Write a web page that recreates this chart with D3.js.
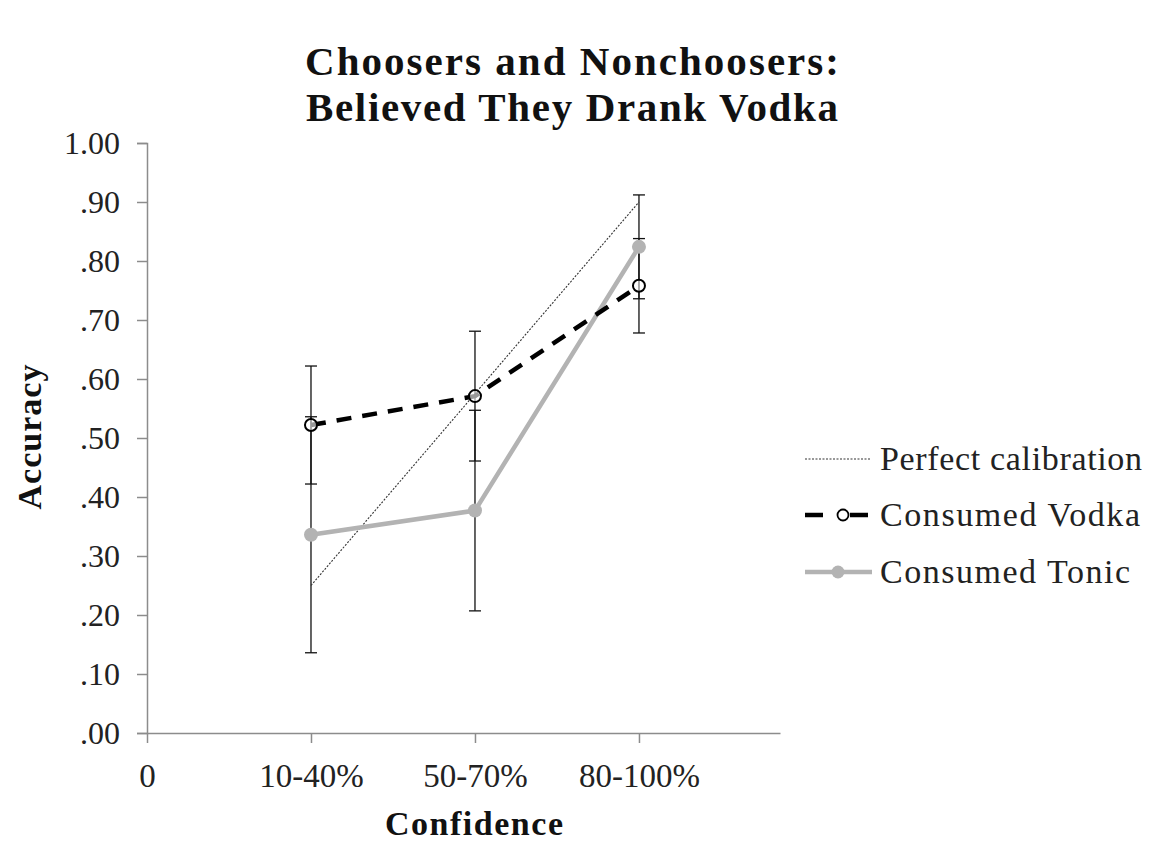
<!DOCTYPE html>
<html><head><meta charset="utf-8">
<script src="https://cdn.jsdelivr.net/npm/d3@7"></script>
<style>body{margin:0;background:#fff}svg{display:block}</style>
</head><body>
<svg id="c" width="1153" height="843"></svg>
<script>
const categories = ["0", "10-40%", "50-70%", "80-100%"];
const catX = [0, 1, 2, 3];
const yTicks = [0, .1, .2, .3, .4, .5, .6, .7, .8, .9, 1.0];
const yTickLabels = [".00", ".10", ".20", ".30", ".40", ".50", ".60", ".70", ".80", ".90", "1.00"];
const perfectX = [1, 3];
const perfectY = [0.25, 0.90];
const vodkaX = [1, 2, 3];
const vodkaY = [0.522, 0.571, 0.758];
const vodkaErr = [0.10, 0.11, 0.08];
const tonicX = [1, 2, 3];
const tonicY = [0.336, 0.377, 0.824];
const tonicErr = [0.20, 0.17, 0.088];
const legendLabels = ["Perfect calibration", "Consumed Vodka", "Consumed Tonic"];

const svg = d3.select("#c");
const font = "'Liberation Serif', 'Times New Roman', serif";
const x = d3.scaleLinear().domain([0, 3.86]).range([147, 780]);
const y = d3.scaleLinear().domain([0, 1]).range([733, 143]);
const axisColor = "#8c8c8c";

// title
const title = svg.append("text").attr("text-anchor", "middle")
  .attr("font-family", font).attr("font-weight", "bold").attr("font-size", 41).attr("fill", "#111");
title.append("tspan").attr("x", 572).attr("y", 75).attr("textLength", 534).attr("lengthAdjust", "spacing").text("Choosers and Nonchoosers:");
title.append("tspan").attr("x", 572).attr("y", 121).attr("textLength", 532).attr("lengthAdjust", "spacing").text("Believed They Drank Vodka");

// y axis
const yAxis = d3.axisLeft(y).tickValues(yTicks).tickFormat((d, i) => yTickLabels[i]).tickSize(10).tickPadding(17);
const gy = svg.append("g").attr("transform", "translate(147,0)").call(yAxis);
gy.select(".domain").attr("stroke", axisColor).attr("stroke-width", 1.5);
gy.selectAll(".tick line").attr("stroke", axisColor).attr("stroke-width", 1.5);
gy.selectAll(".tick text").attr("font-family", font).attr("font-size", 32).attr("fill", "#222");

// x axis
const xAxis = d3.axisBottom(x).tickValues(catX).tickFormat((d, i) => categories[i]).tickSize(10).tickSizeOuter(0).tickPadding(21);
const gx = svg.append("g").attr("transform", "translate(0,733)").call(xAxis);
gx.select(".domain").attr("stroke", axisColor).attr("stroke-width", 1.5);
gx.selectAll(".tick line").attr("stroke", axisColor).attr("stroke-width", 1.5);
gx.selectAll(".tick text").attr("font-family", font).attr("font-size", 33).attr("fill", "#222");

// axis titles
svg.append("text").attr("x", 474).attr("y", 835).attr("text-anchor", "middle")
  .attr("font-family", font).attr("font-weight", "bold").attr("font-size", 34).attr("fill", "#111")
  .attr("textLength", 178).attr("lengthAdjust", "spacing").text("Confidence");
svg.append("text").attr("transform", "translate(41,437) rotate(-90)").attr("text-anchor", "middle")
  .attr("font-family", font).attr("font-weight", "bold").attr("font-size", 34).attr("fill", "#111")
  .attr("textLength", 145).attr("lengthAdjust", "spacing").text("Accuracy");

const line = d3.line().x(d => x(d[0])).y(d => y(d[1]));

// error bars
function errBars(xs, ys, es) {
  const g = svg.append("g").attr("stroke", "#111").attr("stroke-width", 1.3);
  xs.forEach((xv, i) => {
    const lo = ys[i] - es[i], hi = ys[i] + es[i];
    g.append("line").attr("x1", x(xv)).attr("x2", x(xv)).attr("y1", y(lo)).attr("y2", y(hi));
    [lo, hi].forEach(v => g.append("line").attr("x1", x(xv) - 6).attr("x2", x(xv) + 6).attr("y1", y(v)).attr("y2", y(v)));
  });
}
errBars(tonicX, tonicY, tonicErr);
errBars(vodkaX, vodkaY, vodkaErr);

// perfect calibration
svg.append("path").datum(perfectX.map((d, i) => [d, perfectY[i]])).attr("d", line)
  .attr("fill", "none").attr("stroke", "#333").attr("stroke-width", 1.1).attr("stroke-dasharray", "2,1.5");

// tonic
svg.append("path").datum(tonicX.map((d, i) => [d, tonicY[i]])).attr("d", line)
  .attr("fill", "none").attr("stroke", "#b3b3b3").attr("stroke-width", 4.5);
svg.selectAll(".tm").data(tonicX.map((d, i) => [d, tonicY[i]])).join("circle")
  .attr("cx", d => x(d[0])).attr("cy", d => y(d[1])).attr("r", 7).attr("fill", "#b3b3b3");

// vodka
svg.append("path").datum(vodkaX.map((d, i) => [d, vodkaY[i]])).attr("d", line)
  .attr("fill", "none").attr("stroke", "#000").attr("stroke-width", 4.5).attr("stroke-dasharray", "15,11");
svg.selectAll(".vm").data(vodkaX.map((d, i) => [d, vodkaY[i]])).join("circle")
  .attr("cx", d => x(d[0])).attr("cy", d => y(d[1])).attr("r", 6).attr("fill", "#fff").attr("fill-opacity", 0.6)
  .attr("stroke", "#000").attr("stroke-width", 2);

// legend
const lg = svg.append("g");
const ly = [459, 515, 572];
lg.append("line").attr("x1", 805).attr("x2", 871).attr("y1", ly[0]).attr("y2", ly[0])
  .attr("stroke", "#333").attr("stroke-width", 1.1).attr("stroke-dasharray", "2,1.5");
lg.append("line").attr("x1", 805).attr("x2", 823).attr("y1", ly[1]).attr("y2", ly[1]).attr("stroke", "#000").attr("stroke-width", 4.5);
lg.append("line").attr("x1", 850).attr("x2", 868).attr("y1", ly[1]).attr("y2", ly[1]).attr("stroke", "#000").attr("stroke-width", 4.5);
lg.append("circle").attr("cx", 843).attr("cy", ly[1]).attr("r", 5.5).attr("fill", "#fff").attr("stroke", "#000").attr("stroke-width", 1.8);
lg.append("line").attr("x1", 805).attr("x2", 872).attr("y1", ly[2]).attr("y2", ly[2]).attr("stroke", "#b3b3b3").attr("stroke-width", 4.5);
lg.append("circle").attr("cx", 838).attr("cy", ly[2]).attr("r", 6.5).attr("fill", "#b3b3b3");
const legendLens = [262, 260, 250];
lg.selectAll(".lt").data(legendLabels).join("text")
  .attr("x", 880).attr("y", (d, i) => ly[i] + 11).attr("font-family", font).attr("font-size", 34).attr("fill", "#222")
  .attr("textLength", (d, i) => legendLens[i]).attr("lengthAdjust", "spacing").text(d => d);
</script>
</body></html>
